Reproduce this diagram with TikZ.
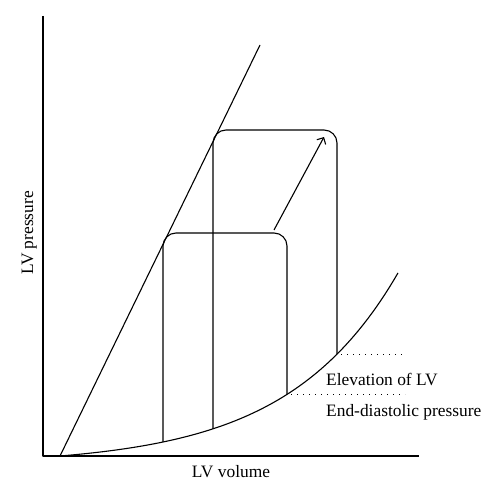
\documentclass[tikz,border=0pt]{standalone}
\usepackage{fontspec}
\setmainfont{Liberation Serif}
\usepackage{tikz}
\usetikzlibrary{arrows.meta}
\tikzset{axis/.style={line width=1.1pt}}
\tikzset{loop/.style={line width=1.1pt, rounded corners=13pt}}
\tikzset{level/.style={line width=1.1pt, dash pattern=on 1.1pt off 4.9pt}}
\tikzset{note/.style={inner sep=0pt, font=\fontsize{17.4}{20}\selectfont}}
\newcommand{\edp}[1]{456-9.17*(exp(0.009*(#1-60))-1)}

\begin{document}
\begin{tikzpicture}[
> = {Straight Barb[length=5pt,width=10pt]}, % open arrow head
x = 1pt, y = -1pt, % pixel grid, y downwards
line join = round
]
\useasboundingbox (0,0) rectangle (498,500);

% axes
\coordinate (O) at (43,456);
\coordinate (ytop) at (43,16);
\coordinate (xend) at (419,456);
\draw[axis] (ytop) -- (O) -- (xend);

% end-systolic line
\coordinate (es0) at (60,456);
\coordinate (es1) at (260,45);
\draw[axis] (es0) -- (es1);

% end-diastolic curve
\draw[axis] plot[domain=60:398, samples=80] (\x, {\edp{\x}});

% loops
\coordinate (a1) at (163,{\edp{163}});
\coordinate (a2) at (287,{\edp{287}});
\coordinate (b1) at (213,{\edp{213}});
\coordinate (b2) at (337,{\edp{337}});
\draw[loop] (a1) -- (163,233) -- (287,233) -- (a2);
\draw[loop] (b1) -- (213,130) -- (337,130) -- (b2);

% shift arrow
\coordinate (s0) at (274,230);
\coordinate (s1) at (324,137);
\draw[axis,->] (s0) -- (s1);

% pressure levels
\coordinate (d1) at (405,{\edp{337}});
\coordinate (d2) at (405,{\edp{287}});
\draw[level] (b2) ++(4,0) -- (d1);
\draw[level] (a2) ++(4,0) -- (d2);

\node[note, anchor=base west] (elev) at (326,385) {Elevation of LV};
\node[note, anchor=base west] (edpt) at (326,416) {End-diastolic pressure};
\node[note, anchor=base] (xlab) at (231,477) {LV volume};
\node[note, anchor=base, rotate=90] (ylab) at (33,233) {LV pressure};
\end{tikzpicture}
\end{document}
